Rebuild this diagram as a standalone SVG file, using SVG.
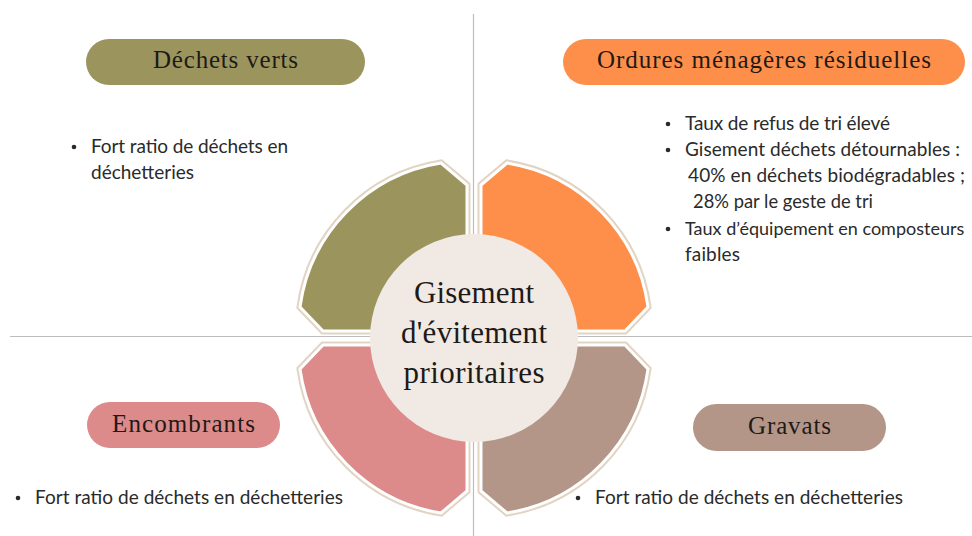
<svg xmlns="http://www.w3.org/2000/svg" width="972" height="536" viewBox="0 0 972 536">
<style>
.title{font-family:"Liberation Serif","DejaVu Serif",serif;font-size:25px;fill:#1e1a17;text-anchor:middle}
.body{font-family:Lato,"Liberation Sans",sans-serif;font-size:19px;fill:#2a2a2a}
.center{font-family:"Liberation Serif","DejaVu Serif",serif;font-size:31px;fill:#1e1a17;text-anchor:middle}
.frame{fill:none;stroke:#e2d4c3;stroke-width:7;stroke-linejoin:miter}
.petal{stroke:#ffffff;stroke-width:3;stroke-linejoin:miter}
.axis{stroke:#bdbdbd;stroke-width:1.2;fill:none}
.dot{fill:#2a2a2a}
</style>
<rect width="972" height="536" fill="#ffffff"/>
<g id="connectors">
<line class="axis" x1="473.5" y1="14" x2="473.5" y2="536"/>
<line class="axis" x1="10" y1="336.5" x2="972" y2="336.5"/>
</g>
<g id="petal-green">
<path class="frame" d="M467,185 L441,163 A169,169 0 0 0 300,307 L323,331 L467,331 Z"/>
<path class="petal" fill="#9b955d" d="M467,185 L441,163 A169,169 0 0 0 300,307 L323,331 L467,331 Z"/>
</g>
<g id="petal-orange">
<path class="frame" d="M481,185 L507,163 A169,169 0 0 1 648,307 L625,331 L481,331 Z"/>
<path class="petal" fill="#fe8f4b" d="M481,185 L507,163 A169,169 0 0 1 648,307 L625,331 L481,331 Z"/>
</g>
<g id="petal-pink">
<path class="frame" d="M467,491 L441,513 A169,169 0 0 1 300,369 L323,345 L467,345 Z"/>
<path class="petal" fill="#dc8a8a" d="M467,491 L441,513 A169,169 0 0 1 300,369 L323,345 L467,345 Z"/>
</g>
<g id="petal-brown">
<path class="frame" d="M481,491 L507,513 A169,169 0 0 0 648,369 L625,345 L481,345 Z"/>
<path class="petal" fill="#b39687" d="M481,491 L507,513 A169,169 0 0 0 648,369 L625,345 L481,345 Z"/>
</g>
<g id="center">
<circle cx="474" cy="338" r="104" fill="#f1e9e3"/>
<text class="center" x="474" y="303" textLength="120">Gisement</text>
<text class="center" x="474" y="343" textLength="146">d'évitement</text>
<text class="center" x="474" y="383" textLength="141">prioritaires</text>
</g>
<g id="dechets-verts">
<rect x="86" y="39" width="279" height="46" rx="23" fill="#9b955d"/>
<text class="title" x="225.5" y="68" textLength="145">Déchets verts</text>
<circle class="dot" cx="74" cy="147" r="2.3"/>
<text class="body" x="91" y="153" textLength="197">Fort ratio de déchets en</text>
<text class="body" x="91" y="179" textLength="103">déchetteries</text>
</g>
<g id="omr">
<rect x="563" y="39" width="402" height="46" rx="23" fill="#fe8f4b"/>
<text class="title" x="764" y="68" textLength="334">Ordures ménagères résiduelles</text>
<circle class="dot" cx="668" cy="124" r="2.3"/>
<text class="body" x="685" y="130" textLength="205">Taux de refus de tri élevé</text>
<circle class="dot" cx="668" cy="150" r="2.3"/>
<text class="body" x="685" y="156" textLength="275">Gisement déchets détournables :</text>
<text class="body" x="688" y="182" textLength="277">40% en déchets biodégradables ;</text>
<text class="body" x="693" y="208" textLength="180" lengthAdjust="spacingAndGlyphs">28% par le geste de tri</text>
<circle class="dot" cx="668" cy="229" r="2.3"/>
<text class="body" x="685" y="235" style="font-size:18px">Taux d’équipement en composteurs</text>
<text class="body" x="685" y="261" textLength="55">faibles</text>
</g>
<g id="encombrants">
<rect x="87" y="402" width="193" height="46" rx="23" fill="#dc8a8a"/>
<text class="title" x="183.5" y="431.5" textLength="143">Encombrants</text>
<circle class="dot" cx="18" cy="498" r="2.3"/>
<text class="body" x="35" y="504" textLength="308">Fort ratio de déchets en déchetteries</text>
</g>
<g id="gravats">
<rect x="693" y="404" width="193" height="47" rx="23.5" fill="#b39687"/>
<text class="title" x="789.5" y="433.5" textLength="83">Gravats</text>
<circle class="dot" cx="578" cy="498" r="2.3"/>
<text class="body" x="595" y="504" textLength="308">Fort ratio de déchets en déchetteries</text>
</g>
</svg>
